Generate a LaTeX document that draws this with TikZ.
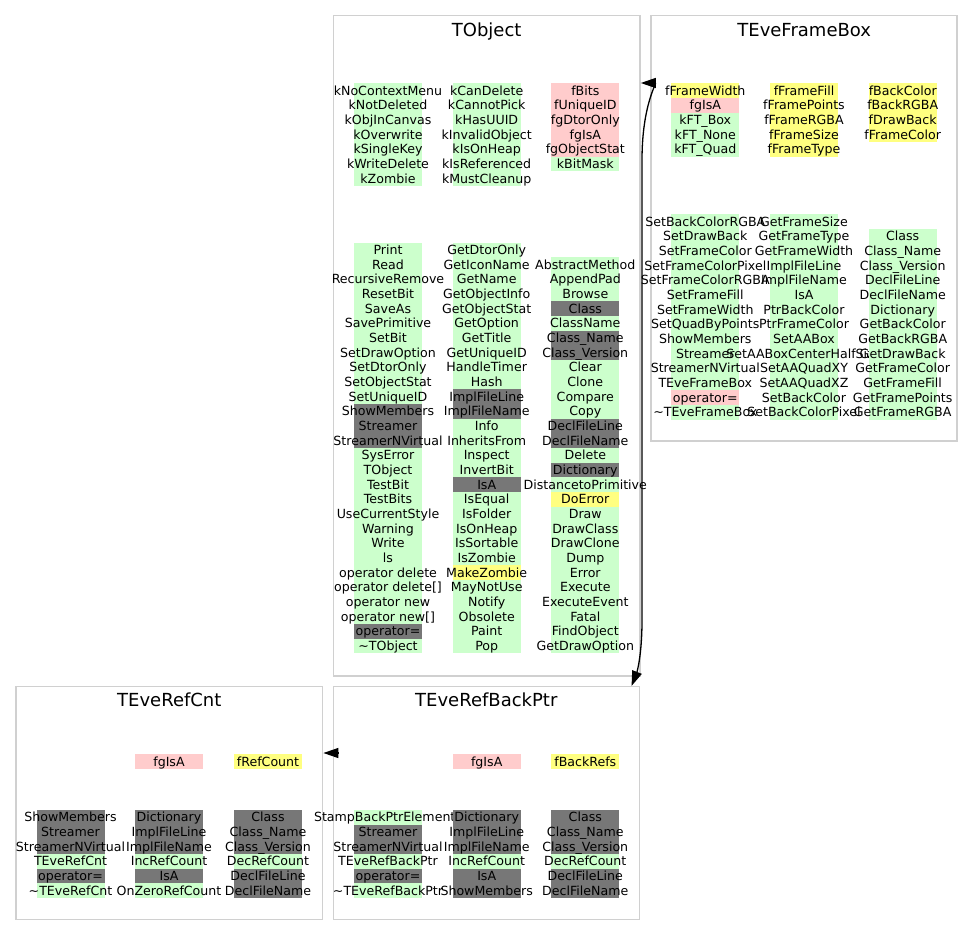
\documentclass[tikz,border=0pt]{standalone}
\usepackage{fontspec}
\setmainfont{DejaVu Sans}
\usepackage{xcolor}
\usepackage{tikz}
\usetikzlibrary{positioning,arrows.meta}

\definecolor{gn}{RGB}{204,255,204}
\definecolor{gy}{RGB}{119,119,119}
\definecolor{pk}{RGB}{255,204,204}
\definecolor{yl}{RGB}{255,255,128}
\definecolor{boxgrey}{RGB}{208,208,208}

% one column of members: name, x, first y, list of text/colour
\newcommand{\membercol}[4]{%
  \foreach \txt/\clr [count=\i] in {#4} {
    \node[band, fill=\clr] (#1-\i) at (#2, {#3+14.67*(\i-1)}) {};
    \node[entry] (#1-txt-\i) at (#1-\i) {\txt};
  }}

\begin{document}
\begin{tikzpicture}[x=1pt,y=-1pt,>={Triangle[length=15pt,width=10pt]},
                      classbox/.style={draw=boxgrey,line width=1.5pt,inner sep=0pt},
                      title/.style={font=\fontsize{18}{20}\selectfont,inner sep=0pt,text height=13pt,text depth=4pt},
                      band/.style={inner sep=0pt,minimum width=68pt,minimum height=14.67pt},
                      entry/.style={font=\fontsize{12.6}{14.67}\selectfont,inner sep=0pt,text height=10.5pt,text depth=1.5pt},
                      link/.style={line width=1.3pt}]

    \useasboundingbox (0,0) rectangle (973,947);

    \node[classbox, minimum width=306.7pt, minimum height=660.3pt] (TObject) at (486.7,345.9) {};
    \node[classbox, minimum width=306pt, minimum height=425.3pt] (TEveFrameBox) at (804.2,228.4) {};
    \node[classbox, minimum width=306.7pt, minimum height=232.6pt] (TEveRefCnt) at (169.3,803) {};
    \node[classbox, minimum width=306pt, minimum height=232.6pt] (TEveRefBackPtr) at (486.3,803) {};

    \node[title] (TObject-title) [below=8.5pt of TObject.north] {TObject};
    \node[title] (TEveFrameBox-title) [below=8.5pt of TEveFrameBox.north] {TEveFrameBox};
    \node[title] (TEveRefCnt-title) [below=7.5pt of TEveRefCnt.north] {TEveRefCnt};
    \node[title] (TEveRefBackPtr-title) [below=7.5pt of TEveRefBackPtr.north] {TEveRefBackPtr};

    % TObject
    \membercol{obj-a1}{388}{90.7}{kNoContextMenu/gn, kNotDeleted/gn, kObjInCanvas/gn, kOverwrite/gn,
      kSingleKey/gn, kWriteDelete/gn, kZombie/gn}
    \membercol{obj-a2}{486.7}{90.7}{kCanDelete/gn, kCannotPick/gn, kHasUUID/gn, kInvalidObject/gn,
      kIsOnHeap/gn, kIsReferenced/gn, kMustCleanup/gn}
    \membercol{obj-a3}{585.3}{90.7}{fBits/pk, fUniqueID/pk, fgDtorOnly/pk, fgIsA/pk, fgObjectStat/pk, kBitMask/gn}
    \membercol{obj-m1}{388}{250}{Print/gn, Read/gn, RecursiveRemove/gn, ResetBit/gn, SaveAs/gn,
      SavePrimitive/gn, SetBit/gn, SetDrawOption/gn, SetDtorOnly/gn, SetObjectStat/gn, SetUniqueID/gn,
      ShowMembers/gy, Streamer/gy, StreamerNVirtual/gy, SysError/gn, TObject/gn, TestBit/gn, TestBits/gn,
      UseCurrentStyle/gn, Warning/gn, Write/gn, ls/gn, operator delete/gn, operator delete[]/gn,
      operator new/gn, operator new[]/gn, operator=/gy, \textasciitilde TObject/gn}
    \membercol{obj-m2}{486.7}{250}{GetDtorOnly/gn, GetIconName/gn, GetName/gn, GetObjectInfo/gn,
      GetObjectStat/gn, GetOption/gn, GetTitle/gn, GetUniqueID/gn, HandleTimer/gn, Hash/gn,
      ImplFileLine/gy, ImplFileName/gy, Info/gn, InheritsFrom/gn, Inspect/gn, InvertBit/gn, IsA/gy,
      IsEqual/gn, IsFolder/gn, IsOnHeap/gn, IsSortable/gn, IsZombie/gn, MakeZombie/yl, MayNotUse/gn,
      Notify/gn, Obsolete/gn, Paint/gn, Pop/gn}
    \membercol{obj-m3}{585.3}{264.67}{AbstractMethod/gn, AppendPad/gn, Browse/gn, Class/gy, ClassName/gn,
      Class\_Name/gy, Class\_Version/gy, Clear/gn, Clone/gn, Compare/gn, Copy/gn, DeclFileLine/gy,
      DeclFileName/gy, Delete/gn, Dictionary/gy, DistancetoPrimitive/gn, DoError/yl, Draw/gn,
      DrawClass/gn, DrawClone/gn, Dump/gn, Error/gn, Execute/gn, ExecuteEvent/gn, Fatal/gn,
      FindObject/gn, GetDrawOption/gn}

    % TEveFrameBox
    \membercol{fb-a1}{705.3}{90.7}{fFrameWidth/yl, fgIsA/pk, kFT\_Box/gn, kFT\_None/gn, kFT\_Quad/gn}
    \membercol{fb-a2}{804}{90.7}{fFrameFill/yl, fFramePoints/yl, fFrameRGBA/yl, fFrameSize/yl, fFrameType/yl}
    \membercol{fb-a3}{902.7}{90.7}{fBackColor/yl, fBackRGBA/yl, fDrawBack/yl, fFrameColor/yl}
    \membercol{fb-m1}{705.3}{221.7}{SetBackColorRGBA/gn, SetDrawBack/gn, SetFrameColor/gn,
      SetFrameColorPixel/gn, SetFrameColorRGBA/gn, SetFrameFill/gn, SetFrameWidth/gn, SetQuadByPoints/gn,
      ShowMembers/gn, Streamer/gn, StreamerNVirtual/gn, TEveFrameBox/gn, operator=/pk,
      \textasciitilde TEveFrameBox/gn}
    \membercol{fb-m2}{804}{221.7}{GetFrameSize/gn, GetFrameType/gn, GetFrameWidth/gn, ImplFileLine/gn,
      ImplFileName/gn, IsA/gn, PtrBackColor/gn, PtrFrameColor/gn, SetAABox/gn, SetAABoxCenterHalfSize/gn,
      SetAAQuadXY/gn, SetAAQuadXZ/gn, SetBackColor/gn, SetBackColorPixel/gn}
    \membercol{fb-m3}{902.7}{236.37}{Class/gn, Class\_Name/gn, Class\_Version/gn, DeclFileLine/gn,
      DeclFileName/gn, Dictionary/gn, GetBackColor/gn, GetBackRGBA/gn, GetDrawBack/gn, GetFrameColor/gn,
      GetFrameFill/gn, GetFramePoints/gn, GetFrameRGBA/gn}

    % TEveRefCnt
    \membercol{cnt-a2}{169}{761.7}{fgIsA/pk}
    \membercol{cnt-a3}{268}{761.7}{fRefCount/yl}
    \membercol{cnt-m1}{70.5}{817.3}{ShowMembers/gy, Streamer/gy, StreamerNVirtual/gy, TEveRefCnt/gn,
      operator=/gy, \textasciitilde TEveRefCnt/gn}
    \membercol{cnt-m2}{169}{817.3}{Dictionary/gy, ImplFileLine/gy, ImplFileName/gy, IncRefCount/gn,
      IsA/gy, OnZeroRefCount/gn}
    \membercol{cnt-m3}{268}{817.3}{Class/gy, Class\_Name/gy, Class\_Version/gy, DecRefCount/gn,
      DeclFileLine/gy, DeclFileName/gy}

    % TEveRefBackPtr
    \membercol{bp-a2}{486.7}{761.7}{fgIsA/pk}
    \membercol{bp-a3}{585.3}{761.7}{fBackRefs/yl}
    \membercol{bp-m1}{388}{817.3}{StampBackPtrElements/gn, Streamer/gy, StreamerNVirtual/gy,
      TEveRefBackPtr/gn, operator=/gy, \textasciitilde TEveRefBackPtr/gn}
    \membercol{bp-m2}{486.7}{817.3}{Dictionary/gy, ImplFileLine/gy, ImplFileName/gy, IncRefCount/gn,
      IsA/gy, ShowMembers/gy}
    \membercol{bp-m3}{585.3}{817.3}{Class/gy, Class\_Name/gy, Class\_Version/gy, DecRefCount/gn,
      DeclFileLine/gy, DeclFileName/gy}

    \draw[link,<->] (TObject.east |- 0,83) .. controls (657,83) and (642,105) .. (642,160)
      -- (642,620) .. controls (642,655) and (637,672) .. ([xshift=-8.5pt]TEveRefBackPtr.north east);
    \draw[link,->] ([shift={(15,-50)}]TEveRefCnt.east) -- ([shift={(0,-50)}]TEveRefCnt.east);

  \end{tikzpicture}
\end{document}
